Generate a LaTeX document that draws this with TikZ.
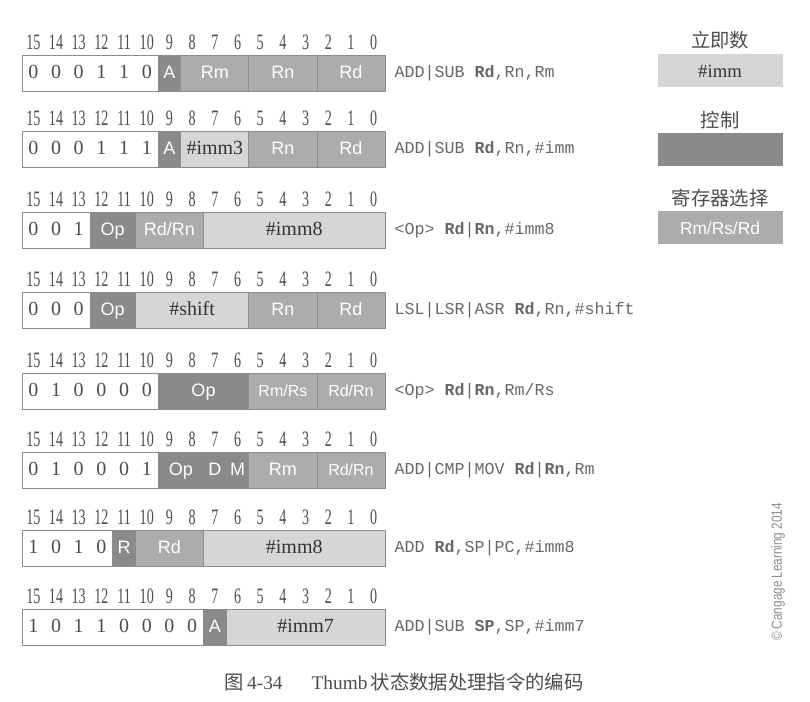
\documentclass[tikz,border=0pt]{standalone}
\usepackage{fontspec}
\setmainfont{Liberation Serif}
\newfontfamily\fldsans{Liberation Sans}
\newfontfamily\insmono{Liberation Mono}
\newfontfamily\bitserif[FakeStretch=0.64]{Liberation Serif}
\newfontfamily\cjk{Noto Sans CJK SC}
\newfontfamily\cpsans[FakeStretch=0.8]{Liberation Sans}
\usetikzlibrary{positioning}

\definecolor{ctrlgray}{HTML}{8A8A8A}
\definecolor{reggray}{HTML}{ACACAC}
\definecolor{immgray}{HTML}{D6D6D6}
\definecolor{framegray}{HTML}{8C8C8C}
\definecolor{textgray}{HTML}{4D4D4D}
\definecolor{immtext}{HTML}{333333}

% one bit is 22.69px wide, a field is 36px high
\newlength\bw \setlength\bw{17.0156pt}
\newlength\bh \setlength\bh{27pt}

\newcommand\bitvals[1]{\foreach \dg in {#1}{\makebox[\bw]{\dg}}}
\newcommand\bitnums[2]{%
  \foreach \bn in {15,...,0}
    \node[bitnum] (n#1-\bn) at ({22+(15.5-\bn)*22.6875},{#2-13}) {\bn};}

\begin{document}
\begin{tikzpicture}[
  x=0.75pt, y=-0.75pt,
  field/.style={
    draw=framegray,
    line width=0.6pt,
    inner sep=0pt,
    outer sep=0pt,
    text height=0.82em,
    text depth=0pt,
    minimum height=\bh
  },
  nbits/.style={minimum width={#1*\bw}},
  fixbits/.style={field, fill=white, text=textgray,
    font=\fontsize{15}{17}\selectfont},
  ctrl/.style={field, fill=ctrlgray, text=white,
    font=\fldsans\fontsize{13.5}{16}\selectfont},
  reg/.style={field, fill=reggray, text=white,
    font=\fldsans\fontsize{13.5}{16}\selectfont},
  imm/.style={field, fill=immgray, text=immtext,
    font=\fontsize{15}{17}\selectfont},
  bitnum/.style={inner sep=0pt, text=textgray,
    font=\bitserif\fontsize{16.5}{18}\selectfont},
  instr/.style={right=7pt of #1, inner sep=0pt, text=textgray!85,
    font=\insmono\fontsize{12.5}{15}\selectfont},
  legtitle/.style={inner sep=0pt, text=textgray,
    font=\cjk\fontsize{14.5}{17}\selectfont},
  legbox/.style={inner sep=0pt, minimum width=93.75pt,
    minimum height=24.75pt}
]
\useasboundingbox[fill=white] (0,0) rectangle (810,702);

% ADD|SUB register
\bitnums{1}{55}
\node[fixbits, nbits=6, anchor=north west] (r1a) at (22,55) {\bitvals{0,0,0,1,1,0}};
\node[ctrl, nbits=1, right=0pt of r1a] (r1b) {A};
\node[reg, nbits=3, right=0pt of r1b] (r1c) {Rm};
\node[reg, nbits=3, right=0pt of r1c] (r1d) {Rn};
\node[reg, nbits=3, right=0pt of r1d] (r1e) {Rd};
\node[instr=r1e] (i1) {ADD|SUB \textbf{Rd},Rn,Rm};

% ADD|SUB immediate
\bitnums{2}{131}
\node[fixbits, nbits=6, anchor=north west] (r2a) at (22,131) {\bitvals{0,0,0,1,1,1}};
\node[ctrl, nbits=1, right=0pt of r2a] (r2b) {A};
\node[imm, nbits=3, right=0pt of r2b] (r2c) {\#imm3};
\node[reg, nbits=3, right=0pt of r2c] (r2d) {Rn};
\node[reg, nbits=3, right=0pt of r2d] (r2e) {Rd};
\node[instr=r2e] (i2) {ADD|SUB \textbf{Rd},Rn,\#imm};

% 8-bit immediate
\bitnums{3}{212}
\node[fixbits, nbits=3, anchor=north west] (r3a) at (22,212) {\bitvals{0,0,1}};
\node[ctrl, nbits=2, right=0pt of r3a] (r3b) {Op};
\node[reg, nbits=3, right=0pt of r3b] (r3c) {Rd/Rn};
\node[imm, nbits=8, right=0pt of r3c] (r3d) {\#imm8};
\node[instr=r3d] (i3) {<Op> \textbf{Rd}|\textbf{Rn},\#imm8};

% shifts
\bitnums{4}{292}
\node[fixbits, nbits=3, anchor=north west] (r4a) at (22,292) {\bitvals{0,0,0}};
\node[ctrl, nbits=2, right=0pt of r4a] (r4b) {Op};
\node[imm, nbits=5, right=0pt of r4b] (r4c) {\#shift};
\node[reg, nbits=3, right=0pt of r4c] (r4d) {Rn};
\node[reg, nbits=3, right=0pt of r4d] (r4e) {Rd};
\node[instr=r4e] (i4) {LSL|LSR|ASR \textbf{Rd},Rn,\#shift};

% ALU operations
\bitnums{5}{373}
\node[fixbits, nbits=6, anchor=north west] (r5a) at (22,373) {\bitvals{0,1,0,0,0,0}};
\node[ctrl, nbits=4, right=0pt of r5a] (r5b) {Op};
\node[reg, nbits=3, right=0pt of r5b, font=\fldsans\fontsize{12}{14}\selectfont] (r5c) {Rm/Rs};
\node[reg, nbits=3, right=0pt of r5c, font=\fldsans\fontsize{12}{14}\selectfont] (r5d) {Rd/Rn};
\node[instr=r5d] (i5) {<Op> \textbf{Rd}|\textbf{Rn},Rm/Rs};

% high registers
\bitnums{6}{452}
\node[fixbits, nbits=6, anchor=north west] (r6a) at (22,452) {\bitvals{0,1,0,0,0,1}};
\node[ctrl, nbits=2, right=0pt of r6a] (r6b) {Op};
\node[ctrl, nbits=1, right=0pt of r6b] (r6c) {D};
\node[ctrl, nbits=1, right=0pt of r6c] (r6d) {M};
\node[reg, nbits=3, right=0pt of r6d] (r6e) {Rm};
\node[reg, nbits=3, right=0pt of r6e, font=\fldsans\fontsize{12}{14}\selectfont] (r6f) {Rd/Rn};
\node[instr=r6f] (i6) {ADD|CMP|MOV \textbf{Rd}|\textbf{Rn},Rm};

% SP/PC relative
\bitnums{7}{530}
\node[fixbits, nbits=4, anchor=north west] (r7a) at (22,530) {\bitvals{1,0,1,0}};
\node[ctrl, nbits=1, right=0pt of r7a] (r7b) {R};
\node[reg, nbits=3, right=0pt of r7b] (r7c) {Rd};
\node[imm, nbits=8, right=0pt of r7c] (r7d) {\#imm8};
\node[instr=r7d] (i7) {ADD \textbf{Rd},SP|PC,\#imm8};

% adjust SP
\bitnums{8}{609}
\node[fixbits, nbits=8, anchor=north west] (r8a) at (22,609) {\bitvals{1,0,1,1,0,0,0,0}};
\node[ctrl, nbits=1, right=0pt of r8a] (r8b) {A};
\node[imm, nbits=7, right=0pt of r8b] (r8c) {\#imm7};
\node[instr=r8c] (i8) {ADD|SUB \textbf{SP},SP,\#imm7};

% legend
\node[legtitle] (limm) at (720,40) {立即数};
\node[legbox, fill=immgray, text=immtext, font=\fontsize{14}{16}\selectfont] (bimm) at (720,71) {\#imm};
\node[legtitle] (lctrl) at (720,120) {控制};
\node[legbox, fill=ctrlgray] (bctrl) at (720,150) {};
\node[legtitle] (lreg) at (720,198) {寄存器选择};
\node[legbox, fill=reggray, text=white, font=\fldsans\fontsize{13}{15}\selectfont] (breg) at (720,228) {Rm/Rs/Rd};

% credit and caption
\node[rotate=90, inner sep=0pt, text=black!45, font=\cpsans\fontsize{11}{13}\selectfont] (credit) at (778,572) {© Cangage Learning 2014};
\node[inner sep=0pt, text=textgray, font=\fontsize{14.5}{17}\selectfont] (caption) at (404,682)
  {{\cjk 图}\,4-34\hspace{1.5em}Thumb\,{\cjk 状态数据处理指令的编码}};

\end{tikzpicture}
\end{document}
